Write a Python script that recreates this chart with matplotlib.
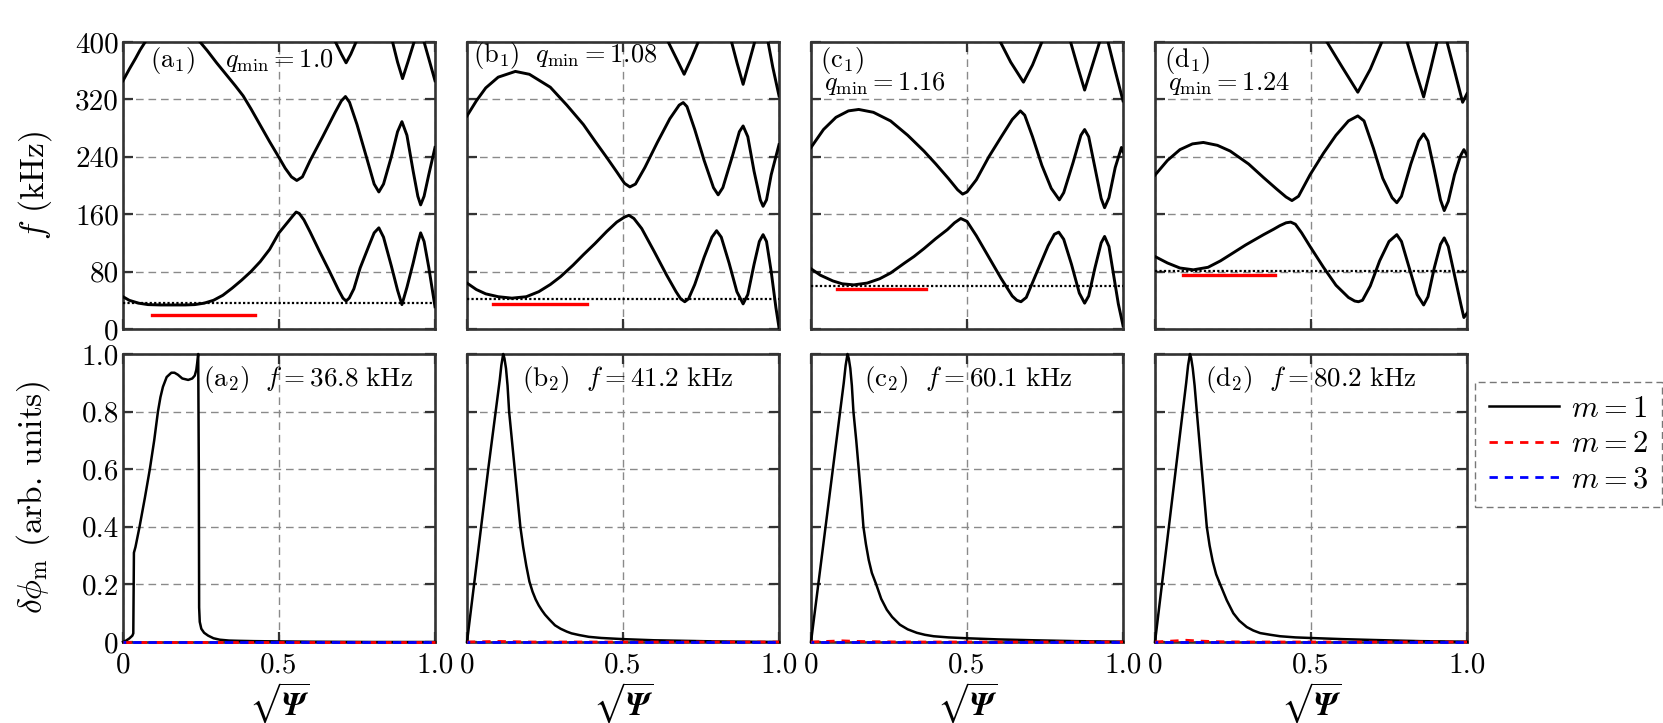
import numpy as np
import matplotlib
matplotlib.use('Agg')
import matplotlib.pyplot as plt
from matplotlib.lines import Line2D

plt.rcParams['font.family'] = 'serif'
plt.rcParams['font.serif'] = ['cmr10']
plt.rcParams['mathtext.fontset'] = 'cm'
plt.rcParams['axes.unicode_minus'] = False
plt.rcParams['axes.formatter.use_mathtext'] = True

nan = np.nan

# ---------------- data: top row, Alfven continuum f (kHz) vs sqrt(Psi) ----------------
PANELS = ['a', 'b', 'c', 'd']
QMIN = ['1.0', '1.08', '1.16', '1.24']
F_MODE = [36.8, 41.2, 60.1, 80.2]          # dotted line / mode frequency
RED_F = [19.4, 35.4, 55.5, 74.6]           # red bar level
RED_X0 = [0.093, 0.082, 0.084, 0.091]
RED_X1 = [0.422, 0.384, 0.368, 0.385]

# panel a
A_LOW_X = [0, 0.02, 0.05, 0.08, 0.12, 0.16, 0.20, 0.23, 0.26, 0.29, 0.32, 0.35, 0.38, 0.41, 0.44, 0.47, 0.50, 0.53, 0.545, 0.555, 0.565, 0.58, 0.60, 0.63, 0.66, 0.69, 0.705, 0.715, 0.725, 0.74, 0.76, 0.79, 0.805, 0.82, 0.835, 0.86, 0.88, 0.894, 0.91, 0.93, 0.945, 0.954, 0.965, 0.98, 1.0]
A_LOW_F = [45, 40, 36, 34, 33.5, 33.5, 33.5, 34, 36, 40, 47, 57, 68, 80, 94, 111, 134, 150, 158, 163, 161, 152, 135, 108, 82, 55, 43, 39, 43, 56, 85, 118, 134, 141, 128, 88, 54, 34, 58, 92, 120, 134, 122, 86, 31]
A_UP_X = [0, 0.02, 0.04, 0.055, 0.071, nan, 0.247, 0.27, 0.30, 0.33, 0.36, 0.385, 0.41, 0.44, 0.47, 0.50, 0.52, 0.54, 0.557, 0.575, 0.60, 0.64, 0.68, 0.70, 0.713, 0.726, 0.75, 0.78, 0.805, 0.82, 0.835, 0.86, 0.88, 0.894, 0.91, 0.93, 0.945, 0.954, 0.965, 0.98, 1.0]
A_UP_F = [346, 362, 377, 389, 400, nan, 400, 388, 371, 355, 339, 325, 307, 284, 261, 239, 224, 212, 207, 212, 235, 268, 302, 318, 324, 316, 285, 240, 202, 191, 202, 240, 275, 289, 270, 220, 185, 173, 185, 215, 253]
A_TOP_X = [0.681, 0.70, 0.715, 0.73, 0.747, nan, 0.864, 0.88, 0.896, 0.913, 0.933, nan, 0.965, 0.98, 1.0]
A_TOP_F = [400, 383, 371, 383, 400, nan, 400, 372, 349, 372, 400, nan, 400, 377, 346]

# panel b
B_LOW_X = [0, 0.03, 0.06, 0.10, 0.144, 0.19, 0.23, 0.267, 0.30, 0.34, 0.373, 0.41, 0.448, 0.48, 0.505, 0.519, 0.535, 0.56, 0.60, 0.64, 0.67, 0.685, 0.698, 0.71, 0.73, 0.76, 0.785, 0.80, 0.815, 0.84, 0.865, 0.885, 0.90, 0.92, 0.937, 0.949, 0.96, 0.975, 0.99, 1.0]
B_LOW_F = [64, 55, 49, 45, 43, 45, 52, 62, 73, 89, 103.5, 119, 136, 149, 156, 158.5, 154, 140, 108, 75, 52, 42, 38, 42, 62, 100, 128, 137, 128, 92, 52, 35, 48, 90, 122, 131.5, 122, 80, 30, 2]
B_UP_X = [0, 0.03, 0.06, 0.10, 0.155, 0.20, 0.267, 0.32, 0.373, 0.41, 0.448, 0.48, 0.505, 0.522, 0.54, 0.57, 0.61, 0.65, 0.68, 0.693, 0.705, 0.73, 0.76, 0.79, 0.805, 0.82, 0.85, 0.873, 0.885, 0.90, 0.92, 0.94, 0.949, 0.96, 0.975, 1.0]
B_UP_F = [297, 318, 336, 351, 359, 355, 337, 312, 285, 262, 239, 219, 203, 198, 202, 225, 260, 293, 312, 315.6, 310, 278, 235, 197, 187, 197, 240, 275, 283, 268, 220, 180, 171, 180, 215, 257]
B_TOP_X = [0.645, 0.67, 0.696, 0.72, 0.741, nan, 0.848, 0.866, 0.885, 0.903, 0.922, nan, 0.965, 0.98, 1.0]
B_TOP_F = [400, 378, 355, 378, 400, nan, 400, 370, 341, 370, 400, nan, 400, 365, 325]

# panel c
C_LOW_X = [0, 0.03, 0.07, 0.10, 0.137, 0.18, 0.22, 0.255, 0.30, 0.33, 0.362, 0.40, 0.437, 0.46, 0.48, 0.50, 0.53, 0.57, 0.61, 0.645, 0.66, 0.673, 0.69, 0.72, 0.76, 0.78, 0.794, 0.81, 0.835, 0.86, 0.877, 0.89, 0.91, 0.93, 0.941, 0.955, 0.97, 0.985, 1.0]
C_LOW_F = [84, 75, 67, 63, 61.5, 64, 70, 78, 92, 101, 112, 126, 138.5, 148, 154, 150, 130, 100, 70, 46, 40, 38, 44, 75, 116, 132, 135, 125, 90, 50, 36, 46, 85, 120, 129, 115, 75, 35, 5]
C_UP_X = [0, 0.04, 0.08, 0.12, 0.153, 0.20, 0.255, 0.31, 0.362, 0.40, 0.44, 0.47, 0.486, 0.50, 0.53, 0.57, 0.61, 0.645, 0.671, 0.685, 0.71, 0.74, 0.77, 0.796, 0.81, 0.84, 0.865, 0.877, 0.89, 0.91, 0.93, 0.941, 0.955, 0.975, 0.995, 1.0]
C_UP_F = [253, 278, 295, 304, 306, 302, 290, 270, 248, 230, 210, 194, 188, 191, 208, 240, 268, 292, 304, 298, 268, 228, 196, 180, 190, 232, 270, 278, 268, 225, 182, 169, 183, 225, 253, 247]
C_TOP_X = [0.607, 0.64, 0.681, 0.71, 0.74, nan, 0.832, 0.855, 0.877, 0.90, 0.925, nan, 0.952, 0.975, 1.0]
C_TOP_F = [400, 372, 344, 368, 400, nan, 400, 365, 333, 365, 400, nan, 400, 360, 318]

# panel d
D_LOW_X = [0, 0.04, 0.08, 0.123, 0.17, 0.21, 0.241, 0.29, 0.348, 0.38, 0.40, 0.42, 0.435, 0.45, 0.47, 0.497, 0.54, 0.58, 0.62, 0.64, 0.652, 0.665, 0.69, 0.72, 0.75, 0.775, 0.79, 0.815, 0.84, 0.861, 0.875, 0.895, 0.915, 0.927, 0.94, 0.96, 0.98, 0.99, 1.0]
D_LOW_F = [101, 92, 85, 82.5, 86, 95, 103.5, 117, 131.5, 139, 144, 148, 149, 146, 134, 115, 86, 61, 44, 39, 38, 40, 60, 95, 122, 131.5, 122, 85, 48, 33.5, 45, 85, 118, 127, 115, 75, 35, 16, 22]
D_UP_X = [0, 0.04, 0.08, 0.12, 0.155, 0.20, 0.241, 0.30, 0.348, 0.39, 0.42, 0.439, 0.46, 0.497, 0.54, 0.58, 0.62, 0.65, 0.67, 0.70, 0.73, 0.76, 0.775, 0.79, 0.82, 0.845, 0.861, 0.875, 0.895, 0.915, 0.927, 0.94, 0.96, 0.98, 0.99, 1.0]
D_UP_F = [214.5, 235, 250, 258, 260, 256, 248, 230, 211, 195, 184, 179, 185, 215, 245, 270, 290, 297, 290, 252, 210, 183, 176, 185, 230, 262, 272, 262, 222, 180, 165, 178, 215, 242, 250, 242]
D_TOP_X = [0.551, 0.60, 0.65, 0.69, 0.727, nan, 0.808, 0.835, 0.861, 0.883, 0.904, nan, 0.936, 0.96, 0.986, 1.0]
D_TOP_F = [400, 365, 330, 362, 400, nan, 400, 360, 323.5, 362, 400, nan, 400, 360, 316, 328]

TOP_CURVES = {
    'a': [(A_LOW_X, A_LOW_F), (A_UP_X, A_UP_F), (A_TOP_X, A_TOP_F)],
    'b': [(B_LOW_X, B_LOW_F), (B_UP_X, B_UP_F), (B_TOP_X, B_TOP_F)],
    'c': [(C_LOW_X, C_LOW_F), (C_UP_X, C_UP_F), (C_TOP_X, C_TOP_F)],
    'd': [(D_LOW_X, D_LOW_F), (D_UP_X, D_UP_F), (D_TOP_X, D_TOP_F)],
}

# ---------------- data: bottom row, mode structure ----------------
A_M1_X = [0, 0.01, 0.02, 0.03, 0.033, 0.035, 0.04, 0.053, 0.07, 0.086, 0.10, 0.112, 0.12, 0.128, 0.14, 0.155, 0.165, 0.176, 0.19, 0.209, 0.222, 0.23, 0.235, 0.238, 0.241, 0.243, 0.244, 0.246, 0.251, 0.26, 0.273, 0.29, 0.31, 0.34, 0.374, 0.42, 0.5, 0.6, 0.8, 1.0]
A_M1_Y = [0, 0.005, 0.012, 0.022, 0.03, 0.31, 0.33, 0.40, 0.50, 0.60, 0.70, 0.80, 0.85, 0.886, 0.92, 0.935, 0.935, 0.928, 0.915, 0.91, 0.915, 0.925, 0.945, 0.97, 1.0, 0.6, 0.12, 0.07, 0.046, 0.032, 0.022, 0.013, 0.008, 0.005, 0.004, 0.003, 0.002, 0.001, 0.0, 0.0]
B_M1_X = [0, 0.068, 0.105, 0.110, 0.116, 0.120, 0.125, 0.130, 0.135, 0.144, 0.153, 0.162, 0.171, 0.18, 0.19, 0.20, 0.21, 0.22, 0.23, 0.24, 0.25, 0.265, 0.282, 0.30, 0.32, 0.335, 0.36, 0.39, 0.43, 0.5, 0.6, 0.7, 0.8, 0.9, 1.0]
B_M1_Y = [0, 0.6, 0.91, 0.96, 1.0, 0.985, 0.95, 0.89, 0.80, 0.70, 0.60, 0.50, 0.40, 0.33, 0.265, 0.21, 0.175, 0.148, 0.127, 0.11, 0.095, 0.077, 0.058, 0.046, 0.036, 0.030, 0.024, 0.018, 0.014, 0.010, 0.006, 0.004, 0.002, 0.001, 0.0]
C_M1_X = [0, 0.105, 0.111, 0.117, 0.121, 0.126, 0.131, 0.136, 0.145, 0.153, 0.161, 0.168, 0.176, 0.185, 0.195, 0.209, 0.225, 0.243, 0.26, 0.285, 0.31, 0.339, 0.365, 0.393, 0.44, 0.5, 0.6, 0.713, 0.85, 1.0]
C_M1_Y = [0, 0.90, 0.96, 1.0, 0.985, 0.95, 0.89, 0.80, 0.70, 0.60, 0.50, 0.40, 0.34, 0.285, 0.24, 0.20, 0.15, 0.112, 0.087, 0.06, 0.044, 0.032, 0.025, 0.02, 0.016, 0.013, 0.009, 0.006, 0.003, 0.001]
D_M1_X = [0, 0.100, 0.106, 0.112, 0.116, 0.121, 0.127, 0.134, 0.142, 0.15, 0.158, 0.166, 0.175, 0.185, 0.196, 0.209, 0.23, 0.251, 0.27, 0.294, 0.315, 0.337, 0.37, 0.401, 0.45, 0.497, 0.6, 0.7, 0.85, 1.0]
D_M1_Y = [0, 0.90, 0.96, 1.0, 0.985, 0.95, 0.89, 0.80, 0.70, 0.60, 0.50, 0.40, 0.335, 0.28, 0.235, 0.20, 0.145, 0.10, 0.074, 0.052, 0.04, 0.031, 0.025, 0.02, 0.016, 0.014, 0.01, 0.007, 0.003, 0.001]

M23_X = [0, 0.05, 0.1, 0.15, 0.2, 0.3, 0.5, 1.0]
M2_Y = {'a': [0, 0, 0, 0, 0, 0, 0, 0],
        'b': [0, 0.001, 0.002, 0.001, 0, 0, 0, 0],
        'c': [0, 0.002, 0.004, 0.002, 0.001, 0, 0, 0],
        'd': [0, 0.003, 0.006, 0.003, 0.001, 0, 0, 0]}
M3_Y = {'a': [0, 0, 0, 0, 0, 0, 0, 0],
        'b': [0, 0, 0, 0, 0, 0, 0, 0],
        'c': [0, 0, 0, 0, 0, 0, 0, 0],
        'd': [0, 0, 0, 0, 0, 0, 0, 0]}
M1 = {'a': (A_M1_X, A_M1_Y), 'b': (B_M1_X, B_M1_Y), 'c': (C_M1_X, C_M1_Y), 'd': (D_M1_X, D_M1_Y)}

F_TICKS = [0, 80, 160, 240, 320, 400]
PHI_TICKS = [0, 0.2, 0.4, 0.6, 0.8, 1.0]
PHI_LABELS = ['0', '0.2', '0.4', '0.6', '0.8', '1.0']
X_TICKS = [0, 0.5, 1.0]
X_LABELS = ['0', '0.5', '1.0']

# ---------------- figure ----------------
W, H = 1663, 723
fig = plt.figure(figsize=(W / 100, H / 100), dpi=100)

LEFTS = [123, 467, 811, 1155]
PW = 312
TOP_Y0, TOP_Y1 = 42, 329
BOT_Y0, BOT_Y1 = 354, 642

FS = 19
TFS = 21
BFS = 19.5
SPINE = '#333333'
GRIDC = '#8a8a8a'


def style(ax):
    for s in ax.spines.values():
        s.set_linewidth(1.9)
        s.set_color(SPINE)
    ax.tick_params(direction='in', length=7, width=1.6, color=SPINE,
                   top=True, right=True, labelsize=TFS)
    ax.grid(True, color=GRIDC, linestyle=(0, (5.5, 3.5)), linewidth=1.0)
    ax.set_axisbelow(True)


def fig_rect(x0, y0, y1):
    return [x0 / W, 1 - y1 / H, PW / W, (y1 - y0) / H]


for i, p in enumerate(PANELS):
    # ---- top panel ----
    ax = fig.add_axes(fig_rect(LEFTS[i], TOP_Y0, TOP_Y1))
    style(ax)
    for xs, fs in TOP_CURVES[p]:
        ax.plot(xs, fs, color='black', lw=2.1, zorder=3)
    ax.axhline(F_MODE[i], color='black', lw=1.6, linestyle=(0, (1, 1)), zorder=3)
    ax.plot([RED_X0[i], RED_X1[i]], [RED_F[i], RED_F[i]], color='red', lw=2.4, zorder=3)
    ax.set_xlim(0, 1)
    ax.set_ylim(0, 400)
    ax.set_xticks(X_TICKS)
    ax.set_xticklabels([])
    ax.set_yticks(F_TICKS)
    if i == 0:
        ax.set_yticklabels([str(t) for t in F_TICKS])
    else:
        ax.set_yticklabels([])
    ax.tick_params(axis='y', pad=3)
    if i == 0:
        ax.text(0.085, 0.937, r'$(\mathrm{a}_1)$', transform=ax.transAxes,
                fontsize=FS, va='center', ha='left')
        ax.text(0.327, 0.937, r'$q_{\min}=%s$' % QMIN[i], transform=ax.transAxes,
                fontsize=FS, va='center', ha='left')
    elif i == 1:
        ax.text(0.019, 0.953, r'$(\mathrm{b}_1)\ \ q_{\min}=%s$' % QMIN[i],
                transform=ax.transAxes, fontsize=FS, va='center', ha='left')
    else:
        ax.text(0.03, 0.937, r'$(\mathrm{%s}_1)$' % p, transform=ax.transAxes,
                fontsize=FS, va='center', ha='left')
        ax.text(0.042, 0.855, r'$q_{\min}=%s$' % QMIN[i], transform=ax.transAxes,
                fontsize=FS, va='center', ha='left')

    # ---- bottom panel ----
    bx = fig.add_axes(fig_rect(LEFTS[i], BOT_Y0, BOT_Y1))
    style(bx)
    xs, ys = M1[p]
    bx.plot(xs, ys, color='black', lw=1.8, zorder=3, clip_on=False)
    bx.plot(M23_X, M2_Y[p], color='red', lw=2.0, linestyle=(0, (3, 2.5)), zorder=4, clip_on=False)
    bx.plot(M23_X, M3_Y[p], color='blue', lw=2.0, linestyle=(2.0, (3, 2.5)), zorder=5, clip_on=False)
    bx.set_xlim(0, 1)
    bx.set_ylim(0, 1)
    bx.set_xticks(X_TICKS)
    bx.set_xticklabels(X_LABELS)
    bx.tick_params(axis='x', pad=7)
    bx.set_yticks(PHI_TICKS)
    if i == 0:
        bx.set_yticklabels(PHI_LABELS)
    else:
        bx.set_yticklabels([])
    bx.tick_params(axis='y', pad=3)
    tx = [0.255, 0.175, 0.17, 0.16][i]
    bx.text(tx, 0.91, r'$(\mathrm{%s}_2)\ \ f = %.1f\ \mathrm{kHz}$' % (p, F_MODE[i]),
            transform=bx.transAxes, fontsize=BFS, va='center', ha='left')
    bx.set_xlabel(r'$\sqrt{\mathbfit{\Psi}}$', fontsize=23, labelpad=2,
                  math_fontfamily='stix')

fig.text(35 / W, 1 - 185.5 / H, r'$f$ (kHz)', rotation=90, fontsize=24,
         va='center', ha='center')
fig.text(33 / W, 1 - 498 / H, r'$\delta\phi_{\mathrm{m}}$ (arb. units)', rotation=90,
         fontsize=24, va='center', ha='center')

handles = [Line2D([], [], color='black', lw=1.8),
           Line2D([], [], color='red', lw=2.0, linestyle=(0, (3, 2.5))),
           Line2D([], [], color='blue', lw=2.0, linestyle=(0, (3, 2.5)))]
leg = fig.legend(handles, [r'$m=1$', r'$m=2$', r'$m=3$'], loc='upper left',
                 bbox_to_anchor=(1475 / W, 1 - 382 / H), borderaxespad=0,
                 fontsize=22, frameon=True, fancybox=False, handlelength=2.3,
                 handletextpad=0.4, labelspacing=0.25, borderpad=0.45)
fr = leg.get_frame()
fr.set_edgecolor('#555555')
fr.set_linestyle((0, (5, 3)))
fr.set_linewidth(1.0)

fig.savefig('out.png', dpi=100)
